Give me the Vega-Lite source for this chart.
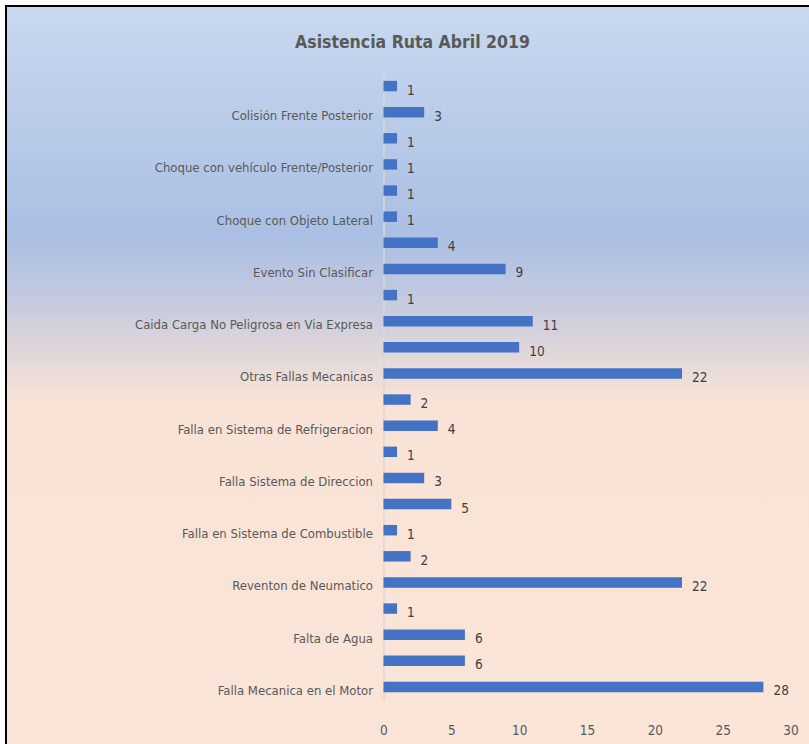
{
  "$schema": "https://vega.github.io/schema/vega-lite/v6.json",
  "autosize": "none",
  "padding": {"left": 6, "top": 6, "right": 0, "bottom": 0},
  "width": 803,
  "height": 738,
  "background": "#ffffff",
  "view": {
    "fill": {
      "gradient": "linear",
      "x1": 0, "y1": 0, "x2": 0, "y2": 1,
      "stops": [
        {"offset": 0, "color": "#c8d8ef"},
        {"offset": 0.31, "color": "#aabfe3"},
        {"offset": 0.40, "color": "#c5cadf"},
        {"offset": 0.535, "color": "#f9e3d6"},
        {"offset": 1, "color": "#fae5d8"}
      ]
    },
    "stroke": "#000000",
    "strokeWidth": 2,
    "strokeDash": [803, 1541, 738, 10]
  },
  "title": {
    "text": "Asistencia Ruta Abril 2019",
    "fontSize": 17.5,
    "fontWeight": "bold",
    "color": "#595959",
    "font": "Liberation Sans Narrow, DejaVu Sans Condensed, sans-serif",
    "anchor": "middle",
    "offset": -45,
    "dx": 5
  },
  "config": {
    "font": "Liberation Sans Narrow, DejaVu Sans Condensed, sans-serif"
  },
  "data": {
    "values": [
      {"categoria": "Sin etiqueta 1", "valor": 1},
      {"categoria": "Colisión Frente Posterior", "valor": 3},
      {"categoria": "Sin etiqueta 2", "valor": 1},
      {"categoria": "Choque con vehículo Frente/Posterior", "valor": 1},
      {"categoria": "Sin etiqueta 3", "valor": 1},
      {"categoria": "Choque con Objeto Lateral", "valor": 1},
      {"categoria": "Sin etiqueta 4", "valor": 4},
      {"categoria": "Evento Sin Clasificar", "valor": 9},
      {"categoria": "Sin etiqueta 5", "valor": 1},
      {"categoria": "Caida Carga No Peligrosa en Via Expresa", "valor": 11},
      {"categoria": "Sin etiqueta 6", "valor": 10},
      {"categoria": "Otras Fallas Mecanicas", "valor": 22},
      {"categoria": "Sin etiqueta 7", "valor": 2},
      {"categoria": "Falla en Sistema de Refrigeracion", "valor": 4},
      {"categoria": "Sin etiqueta 8", "valor": 1},
      {"categoria": "Falla Sistema de Direccion", "valor": 3},
      {"categoria": "Sin etiqueta 9", "valor": 5},
      {"categoria": "Falla en Sistema de Combustible", "valor": 1},
      {"categoria": "Sin etiqueta 10", "valor": 2},
      {"categoria": "Reventon de Neumatico", "valor": 22},
      {"categoria": "Sin etiqueta 11", "valor": 1},
      {"categoria": "Falta de Agua", "valor": 6},
      {"categoria": "Sin etiqueta 12", "valor": 6},
      {"categoria": "Falla Mecanica en el Motor", "valor": 28}
    ]
  },
  "encoding": {
    "y": {
      "field": "categoria",
      "type": "nominal",
      "sort": null,
      "scale": {"type": "band", "range": [67, 694], "paddingInner": 0.6, "paddingOuter": 0.3},
      "axis": {
        "title": null,
        "orient": "left",
        "offset": -377.5,
        "ticks": false,
        "tickSize": 0,
        "domainColor": "#d9d9d9",
        "domainWidth": 1.5,
        "labelColor": "#595959",
        "labelFontSize": 13,
        "labelPadding": 11,
        "labelOffset": 4,
        "labelLimit": 400,
        "labelExpr": "indexof(datum.value, 'Sin etiqueta') === 0 ? '' : datum.value"
      }
    },
    "x": {
      "field": "valor",
      "type": "quantitative",
      "scale": {"domain": [-27.82, 31.36], "nice": false, "zero": false},
      "axis": {
        "title": null,
        "orient": "bottom",
        "values": [0, 5, 10, 15, 20, 25, 30],
        "offset": -14,
        "domain": false,
        "ticks": false,
        "tickSize": 0,
        "grid": false,
        "labelColor": "#595959",
        "labelFontSize": 13.5,
        "labelPadding": 0,
        "labelBaseline": "middle",
        "labelFlush": false
      }
    }
  },
  "layer": [
    {
      "mark": {"type": "bar", "color": "#4472c4"},
      "encoding": {"x2": {"datum": 0}}
    },
    {
      "mark": {"type": "text", "align": "left", "baseline": "middle", "dx": 10, "dy": 4.5, "fontSize": 13.5, "color": "#404040"},
      "encoding": {"text": {"field": "valor", "type": "quantitative"}}
    }
  ]
}
